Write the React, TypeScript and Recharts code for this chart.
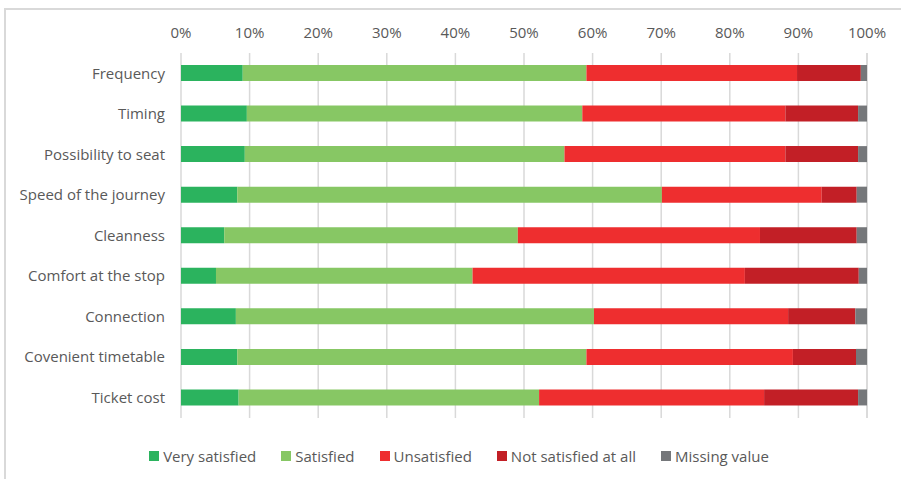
import React from "react"
import { BarChart, Bar, XAxis, YAxis, CartesianGrid, Legend } from "recharts"

const categories = [
  "Frequency",
  "Timing",
  "Possibility to seat",
  "Speed of the journey",
  "Cleanness",
  "Comfort at the stop",
  "Connection",
  "Covenient timetable",
  "Ticket cost",
]

const verySatisfied = [9.0, 9.6, 9.3, 8.2, 6.3, 5.1, 8.0, 8.2, 8.4]
const satisfied = [50.1, 48.9, 46.6, 61.9, 42.8, 37.4, 52.2, 50.9, 43.8]
const unsatisfied = [30.7, 29.6, 32.2, 23.3, 35.3, 39.7, 28.3, 30.1, 32.8]
const notSatisfied = [9.3, 10.6, 10.6, 5.1, 14.1, 16.6, 9.8, 9.2, 13.7]
const missingValue = [0.9, 1.3, 1.3, 1.5, 1.5, 1.2, 1.7, 1.6, 1.3]

const xTicks = [0, 10, 20, 30, 40, 50, 60, 70, 80, 90, 100]

const series = [
  { key: "vs", name: "Very satisfied", color: "#2BB35E" },
  { key: "s", name: "Satisfied", color: "#87C764" },
  { key: "u", name: "Unsatisfied", color: "#EE2E2F" },
  { key: "ns", name: "Not satisfied at all", color: "#C21F26" },
  { key: "mv", name: "Missing value", color: "#75777A" },
]

const data = categories.map((c, i) => ({
  name: c,
  vs: verySatisfied[i],
  s: satisfied[i],
  u: unsatisfied[i],
  ns: notSatisfied[i],
  mv: missingValue[i],
}))

const FONT = "'Open Sans', sans-serif"
const TEXT = "#595959"

function LegendContent() {
  return (
    <div
      style={{
        display: "flex",
        justifyContent: "center",
        gap: 25,
        fontFamily: FONT,
        fontSize: 15,
        color: TEXT,
        paddingLeft: 17,
        lineHeight: "20px",
      }}
    >
      {series.map((s) => (
        <div key={s.key} style={{ display: "flex", alignItems: "center" }}>
          <span style={{ display: "inline-block", width: 10, height: 10, background: s.color, marginRight: 4 }} />
          <span>{s.name}</span>
        </div>
      ))}
    </div>
  )
}

export default function App() {
  return (
    <div style={{ position: "absolute", left: 0, top: 0, width: 901, height: 479, background: "#fff" }}>
      <div
        style={{
          position: "absolute",
          left: 4,
          top: 8,
          right: 0,
          bottom: 0,
          borderTop: "2px solid #D9D9D9",
          borderLeft: "2px solid #D9D9D9",
        }}
      />
      <div style={{ position: "absolute", left: 0, top: 0 }}>
        <BarChart
          width={901}
          height={479}
          data={data}
          layout="vertical"
          margin={{ top: 23, right: 34, bottom: 41, left: 0 }}
          barSize={16}
        >
          <CartesianGrid horizontal={false} stroke="#D9D9D9" strokeWidth={1.5} />
          <XAxis
            type="number"
            orientation="top"
            domain={[0, 100]}
            ticks={xTicks}
            tickFormatter={(v) => `${v}%`}
            axisLine={false}
            tickLine={false}
            tickSize={0}
            tickMargin={15}
            height={30}
            interval={0}
            tick={{ fill: TEXT, fontSize: 15, fontFamily: FONT }}
          />
          <YAxis
            type="category"
            dataKey="name"
            width={181}
            axisLine={false}
            tickLine={false}
            tickSize={0}
            tickMargin={16}
            interval={0}
            tick={{ fill: TEXT, fontSize: 15, fontFamily: FONT }}
          />
          {series.map((s) => (
            <Bar
              key={s.key}
              dataKey={s.key}
              name={s.name}
              stackId="a"
              fill={s.color}
              isAnimationActive={false}
            />
          ))}
          <Legend
            content={<LegendContent />}
            wrapperStyle={{ left: 0, top: 446, width: 901 }}
          />
        </BarChart>
      </div>
    </div>
  )
}
